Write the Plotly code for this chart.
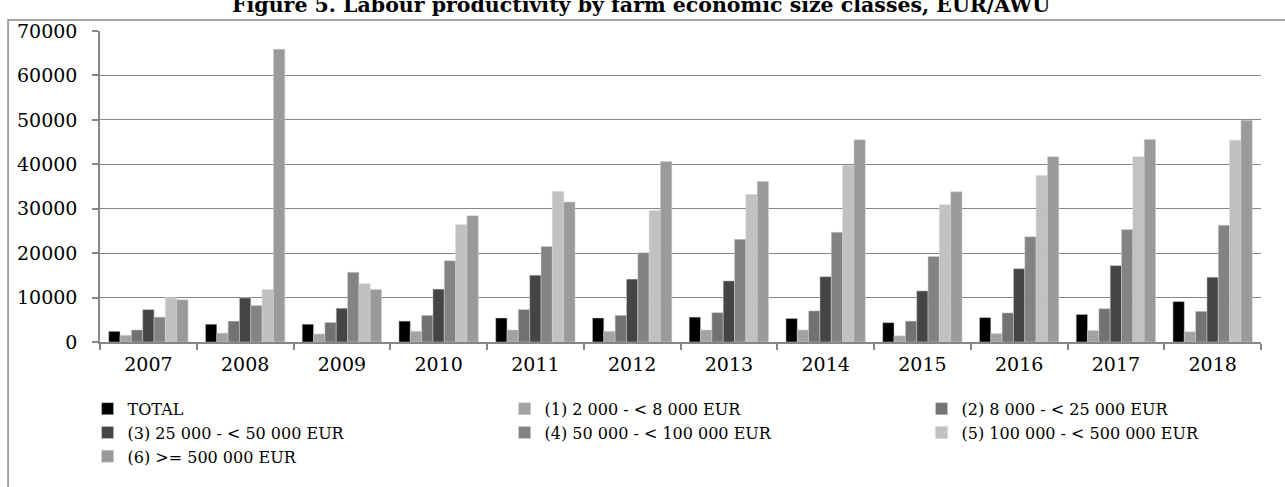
import plotly.graph_objects as go

years = ['2007', '2008', '2009', '2010', '2011', '2012',
         '2013', '2014', '2015', '2016', '2017', '2018']

series_names = [
    'TOTAL',
    '(1) 2 000 - < 8 000 EUR',
    '(2) 8 000 - < 25 000 EUR',
    '(3) 25 000 - < 50 000 EUR',
    '(4) 50 000 - < 100 000 EUR',
    '(5) 100 000 - < 500 000 EUR',
    '(6) >= 500 000 EUR',
]

total = [2400, 4000, 4000, 4700, 5400, 5400, 5600, 5300, 4350, 5500, 6200, 9100]
size_1 = [1500, 2000, 1800, 2400, 2700, 2400, 2700, 2700, 1400, 1900, 2600, 2300]
size_2 = [2700, 4700, 4400, 6000, 7300, 6000, 6600, 7000, 4700, 6550, 7500, 6900]
size_3 = [7300, 9900, 7600, 11900, 15050, 14150, 13750, 14700, 11500, 16500, 17200, 14600]
size_4 = [5600, 8200, 15700, 18300, 21500, 20100, 23100, 24700, 19250, 23700, 25300, 26300]
size_5 = [10100, 11800, 13100, 26400, 33900, 29600, 33200, 39700, 30900, 37500, 41700, 45400]
size_6 = [9500, 65900, 11800, 28400, 31500, 40600, 36100, 45500, 33800, 41700, 45600, 49900]

values = [total, size_1, size_2, size_3, size_4, size_5, size_6]
colors = ['#000000', '#a3a3a3', '#727272', '#454545', '#838383', '#c1c1c1', '#9a9a9a']

title_text = 'Figure 5. Labour productivity by farm economic size classes, EUR/AWU'
font = 'DejaVu Serif'
grey = '#868686'

fig = go.Figure()
for name, vals, col in zip(series_names, values, colors):
    fig.add_trace(go.Bar(
        x=years, y=vals, name=name,
        marker=dict(color=col, line=dict(color='#d0d0d0', width=0.5)),
    ))

# frame round the chart (only top and left edges fall inside the picture)
fig.add_shape(type='rect', xref='paper', yref='paper',
              x0=-0.0792, x1=1.05, y0=-0.6, y1=1.0354,
              line=dict(color=grey, width=1.5), layer='below')

# title sits partly above the top edge, as in the source picture
fig.add_annotation(text='<b>' + title_text + '</b>', xref='paper', yref='paper',
                   x=0.466, y=1.0386, xanchor='center', yanchor='bottom',
                   showarrow=False, font=dict(family=font, size=20.5, color='#000000'))

fig.update_layout(
    width=1285, height=487,
    margin=dict(l=100, r=24, t=31, b=145, autoexpand=False),
    paper_bgcolor='white', plot_bgcolor='white',
    barmode='group', bargap=0.18, bargroupgap=0,
    font=dict(family=font, size=18, color='#000000'),
    showlegend=True,
    legend=dict(orientation='h', xref='paper', yref='paper',
                x=-0.0107, y=-0.16, xanchor='left', yanchor='top',
                entrywidth=372, entrywidthmode='pixels',
                font=dict(family=font, size=16, color='#000000'),
                tracegroupgap=0, itemwidth=30, traceorder='normal'),
    xaxis=dict(type='category', showline=True, linecolor=grey, linewidth=1.5,
               ticks='outside', tickson='boundaries', ticklen=6, tickcolor=grey,
               tickwidth=1.5, showgrid=False, tickfont=dict(size=19),
               ticklabelstandoff=4),
    yaxis=dict(range=[0, 70000], dtick=10000, showline=True, linecolor=grey,
               linewidth=1.5, ticks='outside', ticklen=6, tickcolor=grey,
               tickwidth=1.5, showgrid=True, gridcolor=grey, gridwidth=1,
               zeroline=False, tickformat='d', ticklabelstandoff=11,
               tickfont=dict(size=19)),
)

fig.write_html('out.html', config={'displayModeBar': False},
               post_script="document.body.style.margin='0';document.body.style.overflow='hidden';")
